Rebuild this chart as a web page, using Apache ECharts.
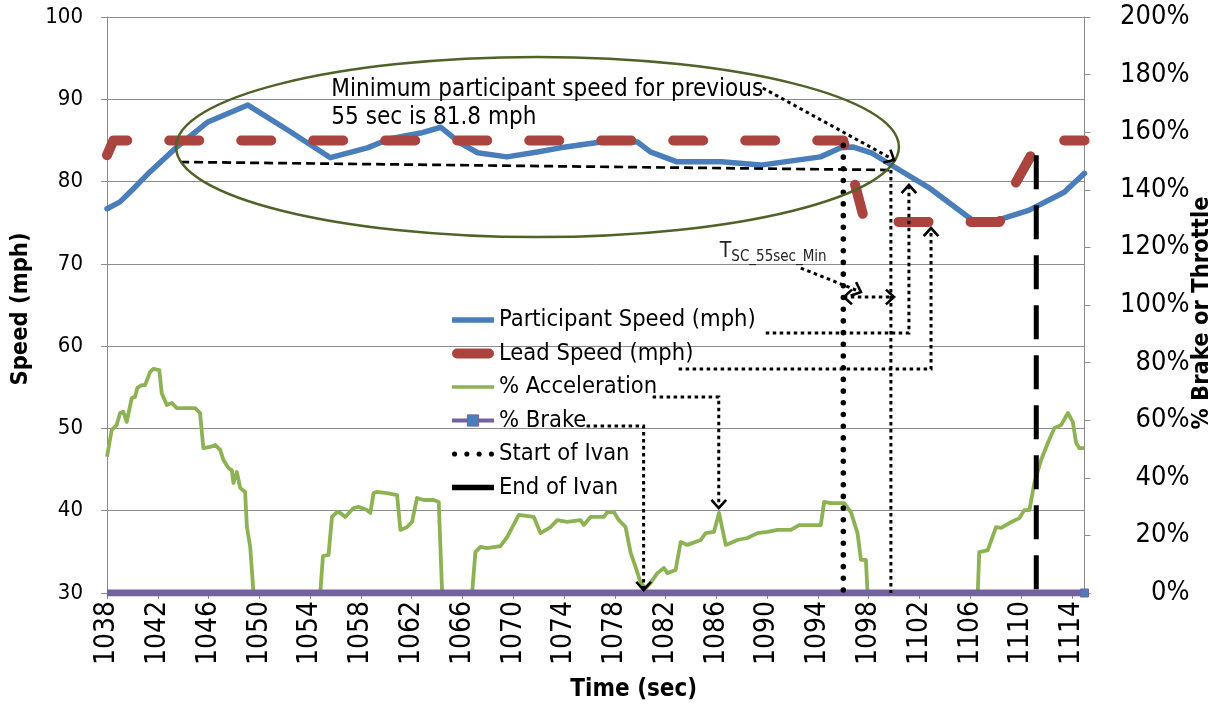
<!DOCTYPE html>
<html><head><meta charset="utf-8">
<script src="https://cdn.jsdelivr.net/npm/echarts@6/dist/echarts.min.js"></script>
<style>html,body{margin:0;padding:0;background:#fff}#c{width:1220px;height:704px}</style>
</head><body><div id="c"></div>
<script>
const FONT = "'DejaVu Sans Condensed', 'DejaVu Sans', sans-serif";

// ---- data ----
const participantTime  = [1038.0, 1039.0, 1040.0, 1041.4, 1043.5, 1045.9, 1049.1, 1052.2, 1055.6, 1058.5, 1060.3, 1062.7, 1064.3, 1065.8, 1067.2, 1069.5, 1071.9, 1073.7, 1076.9, 1079.8, 1080.8, 1082.9, 1086.4, 1089.5, 1094.2, 1095.8, 1096.8, 1098.2, 1100.0, 1102.7, 1106.1, 1107.9, 1110.6, 1113.4, 1115.0];
const participantSpeed = [76.7, 77.5, 79.0, 81.2, 84.2, 87.2, 89.3, 86.3, 82.9, 84.1, 85.2, 85.9, 86.6, 84.7, 83.5, 83.0, 83.6, 84.1, 84.8, 84.8, 83.6, 82.4, 82.4, 82.0, 83.0, 84.1, 84.2, 83.5, 81.8, 79.3, 75.4, 75.2, 76.5, 78.7, 81.0];

const leadTime  = [1038.0, 1038.5, 1096.0, 1097.7, 1108.3, 1108.7, 1109.6, 1110.8, 1111.6, 1115.0];
const leadSpeed = [83.2, 85.0, 85.0, 75.1, 75.1, 75.9, 79.9, 83.2, 85.0, 85.0];

const accelTime = [1038.0,1038.37,1038.76,1039.03,1039.29,1039.55,1039.95,1040.21,1040.39,1040.74,1041.0,1041.39,1041.65,1042.12,1042.31,1042.71,1043.1,1043.5,1044.29,1044.94,1045.33,1045.59,1046.12,1046.52,1046.91,1047.17,1047.57,1047.83,1047.96,1048.23,1048.49,1048.88,1049.02,1049.28,1049.54,
 1054.8,1055.01,1055.45,1055.72,1056.12,1056.38,1056.77,1057.42,1057.82,1058.48,1058.74,1059.0,1059.27,1060.06,1060.85,1061.11,1061.64,1062.03,1062.42,1062.94,1063.73,1064.13,1064.4,
 1066.76,1067.02,1067.42,1067.94,1068.99,1069.52,1070.44,1071.62,1072.15,1072.94,1073.47,1074.25,1075.3,1075.56,1076.09,1077.14,1077.41,1077.93,1078.32,1078.85,1079.25,1079.64,1080.04,1080.43,1080.82,1081.35,1081.87,1082.14,1082.79,1083.19,1083.72,1084.77,1085.16,1085.81,1086.21,1086.74,1087.66,1088.45,1089.24,1090.03,1090.81,1091.86,1092.52,1094.23,1094.49,1095.02,1096.07,1096.6,1097.12,1097.39,1097.78,1097.91,
 1106.59,1106.71,1107.38,1108.03,1108.43,1109.08,1109.87,1110.26,1110.66,1111.05,1111.58,1112.11,1112.63,1113.16,1113.69,1114.08,1114.34,1114.6,1115.0];
const accelPct = [47.3,56.6,58.3,62.5,62.9,59.4,67.7,68.1,71.2,72.2,72.2,76.7,77.8,77.4,69.4,65.3,66.0,64.2,64.2,64.2,62.5,50.3,50.7,51.4,49.7,46.2,43.4,42.7,38.2,42.0,36.5,35.1,22.9,16.0,0,
 0,12.8,13.2,26.4,28.1,27.8,26.4,29.5,29.9,28.8,27.8,34.7,35.1,34.7,34.0,21.9,22.9,24.7,33.0,32.3,32.3,31.6,0,
 0,14.2,16.0,15.6,16.3,19.4,27.1,26.4,20.8,22.9,25.3,24.7,25.3,23.6,26.4,26.4,28.1,28.1,25.3,22.9,13.9,9.0,3.5,1.7,3.5,6.9,8.7,6.9,8.0,17.7,16.7,18.4,20.8,21.2,27.8,16.7,18.4,19.1,20.8,21.2,21.9,21.9,23.6,23.6,31.6,31.2,31.2,28.1,20.8,11.5,11.5,0,
 0,14.2,14.9,22.9,22.6,24.3,26.0,28.8,28.8,38.2,46.2,52.1,57.3,58.3,62.5,59.4,52.1,50.3,50.3];

const brakeTime = [1038.0, 1115.0];
const brakePct  = [0, 0];

const startIvanTime  = [1096.0, 1096.0];
const startIvanSpeed = [84.4, 30];
const endIvanTime    = [1111.2, 1111.2];
const endIvanSpeed   = [83.2, 30];

// annotation anchors (time, speed)
const min55LineTime  = [1043.76, 1099.75];
const min55LineSpeed = [82.38, 81.40];
const tscLineTime    = [1099.75, 1099.75];
const tscLineSpeed   = [81.40, 30];

const xTicks = {min: 1038, max: 1115, interval: 4};
const yLeft  = {min: 30, max: 100, interval: 10};
const yRight = {min: 0, max: 200, interval: 20};

const zip = (a, b) => a.map((x, i) => [x, b[i]]);

const C_BLUE = '#4A7EBB', C_RED = '#A9443F', C_GREEN = '#8DB253', C_PURPLE = '#7461A0';
const GRID_C = '#8c8c8c';

const chart = echarts.init(document.getElementById('c'), null, {renderer: 'canvas'});

const brakeData = zip(brakeTime, brakePct).map((p, i) => i === 0 ? {value: p, symbol: 'none'} : {value: p});

chart.setOption({
  animation: false,
  backgroundColor: '#fff',
  grid: {left: 107, right: 135.5, top: 17, bottom: 111, containLabel: false, outerBoundsMode: 'none'},
  textStyle: {fontFamily: FONT},
  legend: {
    orient: 'vertical', left: 450, top: 308, padding: 0,
    itemWidth: 42, itemHeight: 14, itemGap: 9.5, selectedMode: false,
    textStyle: {fontFamily: FONT, fontSize: 23.5, color: '#000', lineHeight: 24},
    data: [
      {name: 'Participant Speed (mph)', icon: 'path://M0,0H42V5.5H0Z', itemStyle: {color: C_BLUE, borderWidth: 0}},
      {name: 'Lead Speed (mph)', icon: 'path://M5,0H37A5,5 0 0 1 37,10H5A5,5 0 0 1 5,0Z', itemStyle: {color: C_RED, borderWidth: 0}},
      {name: '% Acceleration', icon: 'path://M0,0H42V3.5H0Z', itemStyle: {color: C_GREEN, borderWidth: 0}},
      {name: '% Brake', lineStyle: {width: 4, color: C_PURPLE}, itemStyle: {color: C_BLUE, borderColor: C_PURPLE, borderWidth: 1}},
      {name: 'Start of Ivan', icon: 'path://M0,2.5a2.5,2.5 0 1 0 5,0a2.5,2.5 0 1 0 -5,0ZM12,2.5a2.5,2.5 0 1 0 5,0a2.5,2.5 0 1 0 -5,0ZM24,2.5a2.5,2.5 0 1 0 5,0a2.5,2.5 0 1 0 -5,0ZM36,2.5a2.5,2.5 0 1 0 5,0a2.5,2.5 0 1 0 -5,0Z', itemStyle: {color: '#000', borderWidth: 0}},
      {name: 'End of Ivan', icon: 'path://M0,0H38V5H0Z', itemStyle: {color: '#000', borderWidth: 0}}
    ]
  },
  xAxis: {
    type: 'value', min: xTicks.min, max: xTicks.max, interval: xTicks.interval,
    name: 'Time (sec)', nameLocation: 'middle', nameGap: 85, nameMoveOverlap: false,
    nameTextStyle: {fontFamily: FONT, fontSize: 24, fontWeight: 'bold', color: '#000', padding: [0, 0, 0, 76]},
    axisLine: {lineStyle: {color: GRID_C, width: 1}},
    axisTick: {show: true, length: 6, lineStyle: {color: GRID_C}},
    splitLine: {show: false},
    axisLabel: {rotate: 90, margin: 8, fontFamily: FONT, fontSize: 28, color: '#000', showMaxLabel: false,
      formatter: v => (Math.abs(v - Math.round(v)) < 1e-6 && (Math.round(v) - 1038) % 4 === 0) ? String(Math.round(v)) : ''}
  },
  yAxis: [
    {type: 'value', min: yLeft.min, max: yLeft.max, interval: yLeft.interval, position: 'left',
     name: 'Speed (mph)', nameLocation: 'middle', nameGap: 74, nameRotate: 90, nameMoveOverlap: false,
     nameTextStyle: {fontFamily: FONT, fontSize: 23.5, fontWeight: 'bold', color: '#000', padding: [0, 8, 0, 0]},
     axisLine: {show: true, lineStyle: {color: GRID_C}},
     axisTick: {show: true, length: 6, lineStyle: {color: GRID_C}},
     splitLine: {show: true, lineStyle: {color: GRID_C, width: 1}},
     axisLabel: {margin: 24, fontFamily: FONT, fontSize: 22, color: '#000'}},
    {type: 'value', min: yRight.min, max: yRight.max, interval: yRight.interval, position: 'right',
     name: '% Brake or Throttle', nameLocation: 'middle', nameGap: 105, nameRotate: 90, nameMoveOverlap: false,
     nameTextStyle: {fontFamily: FONT, fontSize: 23.5, fontWeight: 'bold', color: '#000', padding: [0, 16, 0, 0]},
     axisLine: {show: true, lineStyle: {color: GRID_C}},
     axisTick: {show: true, length: 6, lineStyle: {color: GRID_C}},
     splitLine: {show: false},
     axisLabel: {margin: 105, align: 'right', fontFamily: FONT, fontSize: 27, color: '#000', formatter: '{value}%'}}
  ],
  series: [
    {name: 'Participant Speed (mph)', type: 'line', yAxisIndex: 0, data: zip(participantTime, participantSpeed),
     symbol: 'none', showSymbol: false, z: 3, itemStyle: {color: C_BLUE},
     lineStyle: {color: C_BLUE, width: 5.5, join: 'round', cap: 'round'}},
    {name: 'Lead Speed (mph)', type: 'line', yAxisIndex: 0, data: zip(leadTime, leadSpeed),
     symbol: 'none', showSymbol: false, z: 3, itemStyle: {color: C_RED},
     lineStyle: {color: C_RED, width: 10, type: [30, 42], cap: 'round', join: 'round'}},
    {name: '% Acceleration', type: 'line', yAxisIndex: 1, data: zip(accelTime, accelPct),
     symbol: 'none', showSymbol: false, z: 3, itemStyle: {color: C_GREEN},
     lineStyle: {color: C_GREEN, width: 3.8, join: 'round'}},
    {name: '% Brake', type: 'line', yAxisIndex: 1, data: brakeData,
     symbol: 'rect', symbolSize: 8, showSymbol: true, z: 4,
     itemStyle: {color: C_BLUE, borderColor: C_PURPLE, borderWidth: 1},
     lineStyle: {color: C_PURPLE, width: 7}},
    {name: 'Start of Ivan', type: 'line', yAxisIndex: 0, data: zip(startIvanTime, startIvanSpeed),
     symbol: 'none', showSymbol: false, z: 5, itemStyle: {color: '#000'},
     lineStyle: {color: '#000', width: 5.5, type: [0.1, 11.6], cap: 'round'}},
    {name: 'End of Ivan', type: 'line', yAxisIndex: 0, data: zip(endIvanTime, endIvanSpeed),
     symbol: 'none', showSymbol: false, z: 5, itemStyle: {color: '#000'},
     lineStyle: {color: '#000', width: 5, type: [34, 16]}},
    {name: 'min55', type: 'line', yAxisIndex: 0, data: zip(min55LineTime, min55LineSpeed),
     symbol: 'none', showSymbol: false, z: 5, silent: true, itemStyle: {color: '#000'},
     lineStyle: {color: '#000', width: 2.7, type: [9, 5]}},
    {name: 'tsc', type: 'line', yAxisIndex: 0, data: zip(tscLineTime, tscLineSpeed),
     symbol: 'none', showSymbol: false, z: 5, silent: true, itemStyle: {color: '#000'},
     lineStyle: {color: '#000', width: 3, type: [3.5, 3.5]}}
  ]
});

// ---- annotations, positioned in data units ----
const ellipseCenter = [1071.91, 84.2];
const ellipseRadius = [28.47, 10.94]; // seconds, mph
const noteAnchor = [1055.67, 92.83];
const noteText = 'Minimum participant speed for previous\n55 sec is 81.8 mph';
const tscLabelAnchor = [1086.27, 71.44];
const arrowNote = [[1089.66, 91.37], [1100.0, 82.62]];
const arrowTsc = [[1092.65, 69.49], [1097.39, 66.58]];
const doubleArrow = [[1096.04, 65.97], [1100.0, 65.97]];
const calloutParticipant = [[1089.89, 61.60], [1101.17, 61.60], [1101.17, 79.58]];
const calloutLead = [[1083.03, 57.22], [1102.91, 57.22], [1102.91, 74.35]];
const calloutAccel = [[1080.98, 53.82], [1086.19, 53.82], [1086.19, 40.33]];
const calloutBrake = [[1075.78, 50.29], [1080.27, 50.29], [1080.27, 30.36]];

const P = p => chart.convertToPixel({xAxisIndex: 0, yAxisIndex: 0}, p);

function chevron(tip, from, len, deg) {
  const dx = from[0] - tip[0], dy = from[1] - tip[1];
  const L = Math.hypot(dx, dy);
  const ux = dx / L, uy = dy / L, a = deg * Math.PI / 180;
  const rot = (ang) => [ux * Math.cos(ang) - uy * Math.sin(ang), ux * Math.sin(ang) + uy * Math.cos(ang)];
  const v1 = rot(a), v2 = rot(-a);
  return [[tip[0] + v1[0] * len, tip[1] + v1[1] * len], tip, [tip[0] + v2[0] * len, tip[1] + v2[1] * len]];
}
const DOT = {stroke: '#000', lineWidth: 3, lineDash: [3.5, 3.5], fill: null};
const HEAD = {stroke: '#000', lineWidth: 2.6, fill: null, lineJoin: 'miter'};

const elements = [];
function dottedArrow(ptsData, both) {
  const pts = ptsData.map(P);
  elements.push({type: 'polyline', z: 100, shape: {points: pts}, style: DOT, silent: true});
  const n = pts.length;
  elements.push({type: 'polyline', z: 101, shape: {points: chevron(pts[n - 1], pts[n - 2], 11, 42)}, style: HEAD, silent: true});
  if (both) elements.push({type: 'polyline', z: 101, shape: {points: chevron(pts[0], pts[1], 11, 42)}, style: HEAD, silent: true});
}

const c = P(ellipseCenter);
const e = P([ellipseCenter[0] + ellipseRadius[0], ellipseCenter[1] + ellipseRadius[1]]);
elements.push({type: 'ellipse', z: 99, silent: true,
  shape: {cx: c[0], cy: c[1], rx: Math.abs(e[0] - c[0]), ry: Math.abs(e[1] - c[1])},
  style: {fill: null, stroke: '#4F6228', lineWidth: 2.5}});

const na = P(noteAnchor);
elements.push({type: 'text', z: 102, silent: true, x: na[0], y: na[1],
  style: {text: noteText, fontFamily: FONT, fontSize: 24, lineHeight: 28, fill: '#000', verticalAlign: 'top', align: 'left'}});

const ta = P(tscLabelAnchor);
elements.push({type: 'text', z: 102, silent: true, x: ta[0], y: ta[1],
  style: {text: '{T|T}{s|SC_55sec_Min}', fontFamily: FONT, fill: '#222', verticalAlign: 'middle', align: 'left',
    rich: {T: {fontFamily: FONT, fontSize: 21, fill: '#222'}, s: {fontFamily: FONT, fontSize: 15, fill: '#222', padding: [10, 0, 0, 0]}}}});

dottedArrow(arrowNote);
dottedArrow(arrowTsc);
dottedArrow(doubleArrow, true);
dottedArrow(calloutParticipant);
dottedArrow(calloutLead);
dottedArrow(calloutAccel);
dottedArrow(calloutBrake);

chart.setOption({graphic: {elements: elements}});
</script>
</body></html>
